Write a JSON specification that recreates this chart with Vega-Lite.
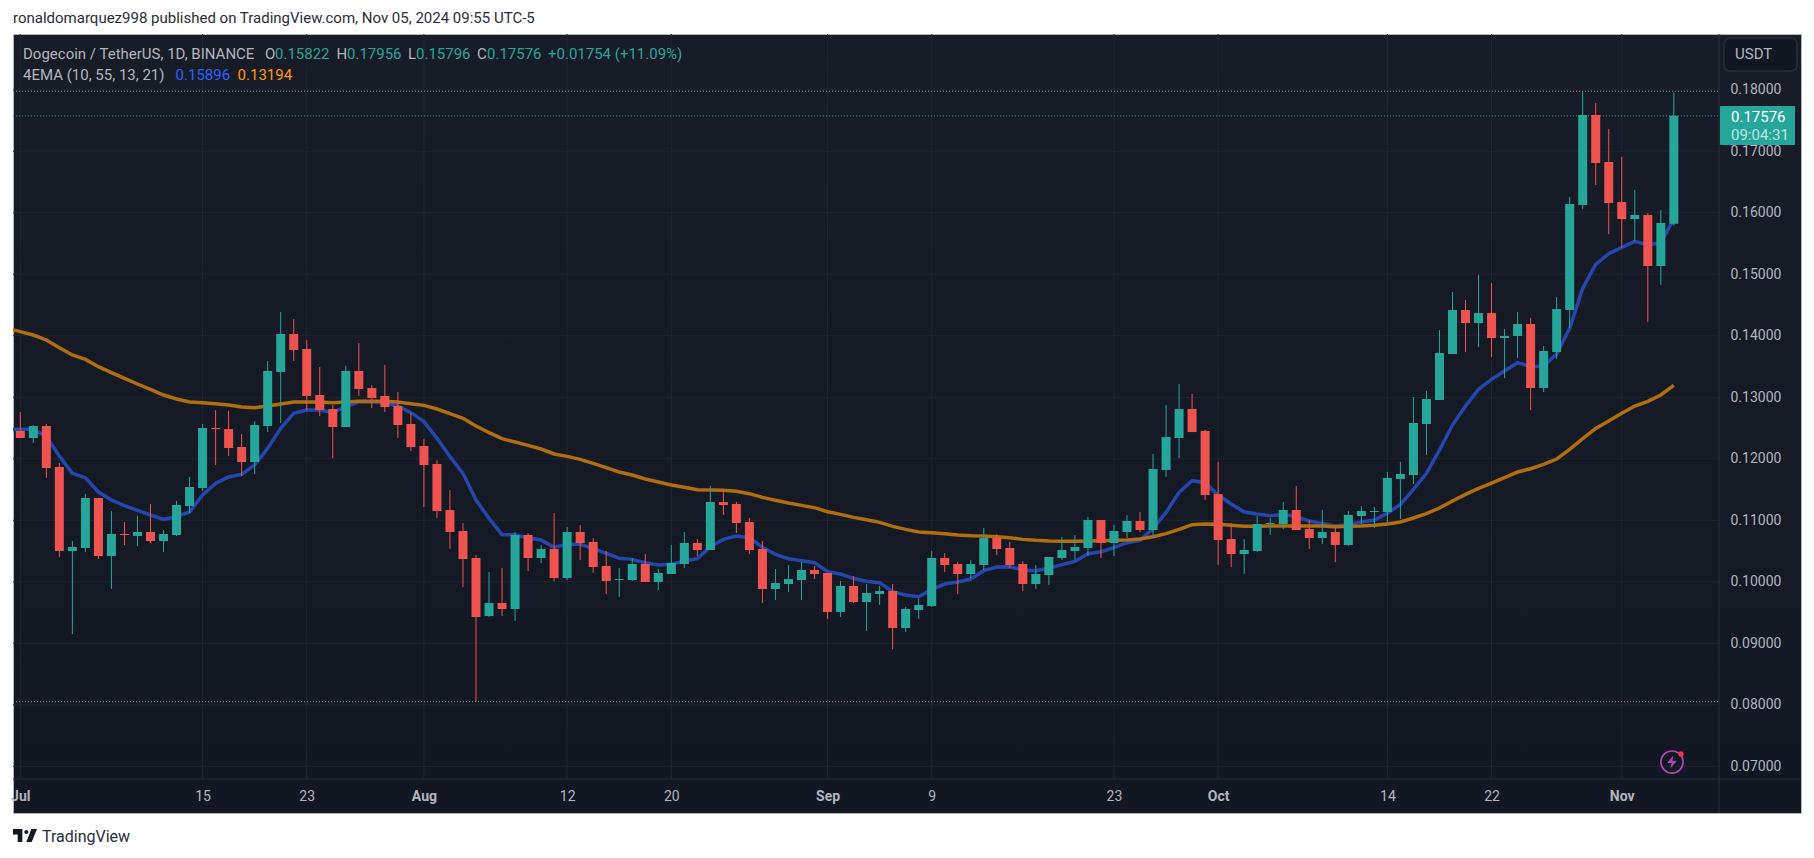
{
  "$schema": "https://vega.github.io/schema/vega-lite/v6.json",
  "width": 1788,
  "height": 779,
  "autosize": {"type": "none"},
  "padding": {"left": 13, "top": 34, "right": 13, "bottom": 45},
  "background": "#ffffff",
  "usermeta": {"embedOptions": {"actions": false}},
  "title": {"text": "ronaldomarquez998 published on TradingView.com, Nov 05, 2024 09:55 UTC-5", "anchor": "start", "frame": "group", "offset": 8, "font": "Roboto", "fontSize": 15, "fontWeight": "normal", "color": "#2a2e39"},
  "config": {"view": {"stroke": "#b2b5be", "strokeWidth": 1, "fill": {"gradient": "linear", "x1": 0, "y1": 0, "x2": 0, "y2": 1, "stops": [{"offset": 0, "color": "#181c27"}, {"offset": 1, "color": "#131722"}]}}, "text": {"font": "Roboto"}},
  "resolve": {"axis": {"x": "independent", "y": "independent"}},
  "datasets": {
    "candles": [
      {"date":"2024-06-30","ema10":0.12479,"ema55":0.14121},
      {"date":"2024-07-01","open":0.12452,"high":0.12761,"low":0.12338,"close":0.12338,"ema10":0.12479,"ema55":0.14067},
      {"date":"2024-07-02","open":0.12338,"high":0.12549,"low":0.12257,"close":0.12533,"ema10":0.12479,"ema55":0.14013},
      {"date":"2024-07-03","open":0.12533,"high":0.12566,"low":0.11688,"close":0.1185,"ema10":0.1236,"ema55":0.13932},
      {"date":"2024-07-04","open":0.11867,"high":0.11932,"low":0.10403,"close":0.10501,"ema10":0.12046,"ema55":0.13807},
      {"date":"2024-07-05","open":0.10501,"high":0.10663,"low":0.09151,"close":0.10566,"ema10":0.11764,"ema55":0.13688},
      {"date":"2024-07-06","open":0.1055,"high":0.11428,"low":0.10485,"close":0.11363,"ema10":0.11693,"ema55":0.13617},
      {"date":"2024-07-07","open":0.11363,"high":0.11363,"low":0.10371,"close":0.10419,"ema10":0.1146,"ema55":0.13498},
      {"date":"2024-07-08","open":0.10419,"high":0.11151,"low":0.09883,"close":0.10777,"ema10":0.1133,"ema55":0.134},
      {"date":"2024-07-09","open":0.10777,"high":0.10972,"low":0.10598,"close":0.10761,"ema10":0.11238,"ema55":0.13308},
      {"date":"2024-07-10","open":0.10745,"high":0.1107,"low":0.10582,"close":0.1081,"ema10":0.11162,"ema55":0.13216},
      {"date":"2024-07-11","open":0.1081,"high":0.11265,"low":0.10631,"close":0.10663,"ema10":0.11086,"ema55":0.13129},
      {"date":"2024-07-12","open":0.10663,"high":0.10842,"low":0.10485,"close":0.10777,"ema10":0.11016,"ema55":0.13037},
      {"date":"2024-07-13","open":0.10761,"high":0.11314,"low":0.10745,"close":0.11249,"ema10":0.11059,"ema55":0.12972},
      {"date":"2024-07-14","open":0.11232,"high":0.11704,"low":0.11119,"close":0.11541,"ema10":0.11135,"ema55":0.12923},
      {"date":"2024-07-15","open":0.11525,"high":0.12566,"low":0.11476,"close":0.12501,"ema10":0.11411,"ema55":0.12913},
      {"date":"2024-07-16","open":0.12501,"high":0.12793,"low":0.11899,"close":0.12484,"ema10":0.11601,"ema55":0.12896},
      {"date":"2024-07-17","open":0.12484,"high":0.12777,"low":0.12046,"close":0.12176,"ema10":0.11704,"ema55":0.12875},
      {"date":"2024-07-18","open":0.12192,"high":0.12403,"low":0.1172,"close":0.11948,"ema10":0.11747,"ema55":0.12842},
      {"date":"2024-07-19","open":0.11948,"high":0.12615,"low":0.11753,"close":0.12549,"ema10":0.11899,"ema55":0.12831},
      {"date":"2024-07-20","open":0.12533,"high":0.1359,"low":0.12436,"close":0.13428,"ema10":0.1217,"ema55":0.12858},
      {"date":"2024-07-21","open":0.13411,"high":0.14387,"low":0.12582,"close":0.14029,"ema10":0.12495,"ema55":0.12891},
      {"date":"2024-07-22","open":0.14029,"high":0.14273,"low":0.1359,"close":0.13769,"ema10":0.12739,"ema55":0.12923},
      {"date":"2024-07-23","open":0.13785,"high":0.13932,"low":0.12793,"close":0.13021,"ema10":0.12793,"ema55":0.12923},
      {"date":"2024-07-24","open":0.13037,"high":0.13493,"low":0.12696,"close":0.12793,"ema10":0.12793,"ema55":0.12923},
      {"date":"2024-07-25","open":0.1281,"high":0.12875,"low":0.12013,"close":0.12517,"ema10":0.12755,"ema55":0.12913},
      {"date":"2024-07-26","open":0.12517,"high":0.13509,"low":0.12517,"close":0.13428,"ema10":0.12848,"ema55":0.12923},
      {"date":"2024-07-27","open":0.13428,"high":0.13883,"low":0.13021,"close":0.13135,"ema10":0.12923,"ema55":0.12934},
      {"date":"2024-07-28","open":0.13151,"high":0.132,"low":0.12826,"close":0.12989,"ema10":0.12929,"ema55":0.12934},
      {"date":"2024-07-29","open":0.13021,"high":0.13525,"low":0.12761,"close":0.12842,"ema10":0.12902,"ema55":0.12934},
      {"date":"2024-07-30","open":0.12858,"high":0.13086,"low":0.12338,"close":0.12549,"ema10":0.12858,"ema55":0.12923},
      {"date":"2024-07-31","open":0.12566,"high":0.12745,"low":0.12127,"close":0.12192,"ema10":0.1275,"ema55":0.12896},
      {"date":"2024-08-01","open":0.12208,"high":0.12322,"low":0.11216,"close":0.11899,"ema10":0.12604,"ema55":0.12869},
      {"date":"2024-08-02","open":0.11915,"high":0.1198,"low":0.11037,"close":0.11151,"ema10":0.12333,"ema55":0.1281},
      {"date":"2024-08-03","open":0.11167,"high":0.11493,"low":0.10533,"close":0.1081,"ema10":0.12035,"ema55":0.12734},
      {"date":"2024-08-04","open":0.10826,"high":0.10956,"low":0.09915,"close":0.10371,"ema10":0.11764,"ema55":0.12658},
      {"date":"2024-08-05","open":0.10387,"high":0.10436,"low":0.08051,"close":0.09428,"ema10":0.1133,"ema55":0.12533},
      {"date":"2024-08-06","open":0.09444,"high":0.10159,"low":0.09428,"close":0.09655,"ema10":0.11032,"ema55":0.12425},
      {"date":"2024-08-07","open":0.09655,"high":0.10224,"low":0.09444,"close":0.09558,"ema10":0.10766,"ema55":0.12327},
      {"date":"2024-08-08","open":0.09558,"high":0.1081,"low":0.09363,"close":0.10761,"ema10":0.10766,"ema55":0.12273},
      {"date":"2024-08-09","open":0.10761,"high":0.10793,"low":0.10175,"close":0.10387,"ema10":0.10712,"ema55":0.12219},
      {"date":"2024-08-10","open":0.10387,"high":0.10598,"low":0.10306,"close":0.10533,"ema10":0.1068,"ema55":0.12159},
      {"date":"2024-08-11","open":0.10533,"high":0.11119,"low":0.10013,"close":0.10062,"ema10":0.1056,"ema55":0.12078},
      {"date":"2024-08-12","open":0.10062,"high":0.10891,"low":0.10029,"close":0.1081,"ema10":0.10609,"ema55":0.1204},
      {"date":"2024-08-13","open":0.1081,"high":0.10924,"low":0.10354,"close":0.10631,"ema10":0.10609,"ema55":0.11991},
      {"date":"2024-08-14","open":0.10647,"high":0.10712,"low":0.10143,"close":0.10241,"ema10":0.10544,"ema55":0.11926},
      {"date":"2024-08-15","open":0.10257,"high":0.10501,"low":0.09802,"close":0.10013,"ema10":0.10463,"ema55":0.11856},
      {"date":"2024-08-16","open":0.10029,"high":0.10224,"low":0.09753,"close":0.10045,"ema10":0.10382,"ema55":0.11785},
      {"date":"2024-08-17","open":0.10029,"high":0.10387,"low":0.10013,"close":0.10289,"ema10":0.10365,"ema55":0.11737},
      {"date":"2024-08-18","open":0.10289,"high":0.10452,"low":0.09997,"close":0.09997,"ema10":0.10311,"ema55":0.11672},
      {"date":"2024-08-19","open":0.09997,"high":0.10208,"low":0.09867,"close":0.10143,"ema10":0.10273,"ema55":0.11623},
      {"date":"2024-08-20","open":0.10127,"high":0.10598,"low":0.10127,"close":0.10306,"ema10":0.10284,"ema55":0.11574},
      {"date":"2024-08-21","open":0.10289,"high":0.1081,"low":0.10224,"close":0.10631,"ema10":0.10338,"ema55":0.11536},
      {"date":"2024-08-22","open":0.10631,"high":0.10696,"low":0.1042,"close":0.10517,"ema10":0.10376,"ema55":0.11498},
      {"date":"2024-08-23","open":0.10517,"high":0.11558,"low":0.10517,"close":0.11297,"ema10":0.10571,"ema55":0.11493},
      {"date":"2024-08-24","open":0.11297,"high":0.11509,"low":0.11086,"close":0.11249,"ema10":0.1069,"ema55":0.11487},
      {"date":"2024-08-25","open":0.11265,"high":0.11297,"low":0.10793,"close":0.10956,"ema10":0.10745,"ema55":0.11471},
      {"date":"2024-08-26","open":0.10972,"high":0.11037,"low":0.10452,"close":0.10517,"ema10":0.10718,"ema55":0.11433},
      {"date":"2024-08-27","open":0.10533,"high":0.10663,"low":0.09655,"close":0.09883,"ema10":0.1056,"ema55":0.11373},
      {"date":"2024-08-28","open":0.09883,"high":0.10208,"low":0.09704,"close":0.0998,"ema10":0.10447,"ema55":0.11325},
      {"date":"2024-08-29","open":0.09964,"high":0.10273,"low":0.09834,"close":0.10045,"ema10":0.10376,"ema55":0.11281},
      {"date":"2024-08-30","open":0.10029,"high":0.10322,"low":0.09704,"close":0.10192,"ema10":0.10344,"ema55":0.11243},
      {"date":"2024-08-31","open":0.10192,"high":0.10257,"low":0.10045,"close":0.10127,"ema10":0.10311,"ema55":0.11205},
      {"date":"2024-09-01","open":0.10143,"high":0.10143,"low":0.09395,"close":0.09509,"ema10":0.10165,"ema55":0.1114},
      {"date":"2024-09-02","open":0.09509,"high":0.10013,"low":0.09428,"close":0.09932,"ema10":0.10127,"ema55":0.11097},
      {"date":"2024-09-03","open":0.09932,"high":0.10094,"low":0.09655,"close":0.09671,"ema10":0.10056,"ema55":0.11048},
      {"date":"2024-09-04","open":0.09671,"high":0.09964,"low":0.092,"close":0.09818,"ema10":0.10008,"ema55":0.1101},
      {"date":"2024-09-05","open":0.09802,"high":0.09932,"low":0.09623,"close":0.0985,"ema10":0.09986,"ema55":0.10967},
      {"date":"2024-09-06","open":0.0985,"high":0.09964,"low":0.08907,"close":0.09249,"ema10":0.0984,"ema55":0.10902},
      {"date":"2024-09-07","open":0.09249,"high":0.0959,"low":0.09184,"close":0.09558,"ema10":0.09785,"ema55":0.10853},
      {"date":"2024-09-08","open":0.09541,"high":0.0972,"low":0.09395,"close":0.09623,"ema10":0.09758,"ema55":0.1081},
      {"date":"2024-09-09","open":0.09606,"high":0.10501,"low":0.0959,"close":0.10387,"ema10":0.09877,"ema55":0.10799},
      {"date":"2024-09-10","open":0.10387,"high":0.10468,"low":0.10159,"close":0.10273,"ema10":0.09964,"ema55":0.10783},
      {"date":"2024-09-11","open":0.10289,"high":0.10322,"low":0.09802,"close":0.10127,"ema10":0.09997,"ema55":0.10761},
      {"date":"2024-09-12","open":0.10127,"high":0.10354,"low":0.10062,"close":0.10289,"ema10":0.10045,"ema55":0.1075},
      {"date":"2024-09-13","open":0.10273,"high":0.10875,"low":0.10192,"close":0.10712,"ema10":0.10181,"ema55":0.10745},
      {"date":"2024-09-14","open":0.10712,"high":0.10777,"low":0.10436,"close":0.10533,"ema10":0.10241,"ema55":0.10734},
      {"date":"2024-09-15","open":0.1055,"high":0.10647,"low":0.10224,"close":0.10273,"ema10":0.10246,"ema55":0.10718},
      {"date":"2024-09-16","open":0.10289,"high":0.10338,"low":0.0985,"close":0.09964,"ema10":0.10192,"ema55":0.1069},
      {"date":"2024-09-17","open":0.09964,"high":0.10273,"low":0.09883,"close":0.10127,"ema10":0.10181,"ema55":0.10674},
      {"date":"2024-09-18","open":0.1011,"high":0.10403,"low":0.09948,"close":0.10403,"ema10":0.10219,"ema55":0.10663},
      {"date":"2024-09-19","open":0.10387,"high":0.10728,"low":0.10354,"close":0.10517,"ema10":0.10279,"ema55":0.10658},
      {"date":"2024-09-20","open":0.10501,"high":0.10761,"low":0.10371,"close":0.10566,"ema10":0.10333,"ema55":0.10658},
      {"date":"2024-09-21","open":0.1055,"high":0.11054,"low":0.1042,"close":0.11005,"ema10":0.10457,"ema55":0.10663},
      {"date":"2024-09-22","open":0.11005,"high":0.11005,"low":0.10387,"close":0.10631,"ema10":0.1049,"ema55":0.10669},
      {"date":"2024-09-23","open":0.10631,"high":0.10924,"low":0.1042,"close":0.10826,"ema10":0.10555,"ema55":0.10674},
      {"date":"2024-09-24","open":0.1081,"high":0.11086,"low":0.10712,"close":0.10989,"ema10":0.10636,"ema55":0.1068},
      {"date":"2024-09-25","open":0.10989,"high":0.11135,"low":0.1081,"close":0.10842,"ema10":0.10674,"ema55":0.10696},
      {"date":"2024-09-26","open":0.10842,"high":0.12078,"low":0.10712,"close":0.11834,"ema10":0.10869,"ema55":0.10734},
      {"date":"2024-09-27","open":0.11818,"high":0.12875,"low":0.11704,"close":0.12354,"ema10":0.11129,"ema55":0.10783},
      {"date":"2024-09-28","open":0.12338,"high":0.13216,"low":0.12013,"close":0.12809,"ema10":0.11455,"ema55":0.10853},
      {"date":"2024-09-29","open":0.12809,"high":0.13053,"low":0.12435,"close":0.12435,"ema10":0.11644,"ema55":0.10929},
      {"date":"2024-09-30","open":0.12452,"high":0.12468,"low":0.1133,"close":0.11411,"ema10":0.11612,"ema55":0.1094},
      {"date":"2024-10-01","open":0.11427,"high":0.11948,"low":0.10273,"close":0.10679,"ema10":0.11411,"ema55":0.10934},
      {"date":"2024-10-02","open":0.10696,"high":0.10956,"low":0.1024,"close":0.10452,"ema10":0.11265,"ema55":0.10918},
      {"date":"2024-10-03","open":0.10452,"high":0.10696,"low":0.10127,"close":0.10517,"ema10":0.11135,"ema55":0.10902},
      {"date":"2024-10-04","open":0.10501,"high":0.1107,"low":0.10484,"close":0.1094,"ema10":0.11102,"ema55":0.10902},
      {"date":"2024-10-05","open":0.1094,"high":0.11037,"low":0.10761,"close":0.10956,"ema10":0.11075,"ema55":0.10907},
      {"date":"2024-10-06","open":0.1094,"high":0.11297,"low":0.10858,"close":0.11167,"ema10":0.11097,"ema55":0.10907},
      {"date":"2024-10-07","open":0.11167,"high":0.11558,"low":0.10842,"close":0.10842,"ema10":0.11059,"ema55":0.10907},
      {"date":"2024-10-08","open":0.10858,"high":0.11005,"low":0.10533,"close":0.10712,"ema10":0.10988,"ema55":0.10907},
      {"date":"2024-10-09","open":0.10712,"high":0.11167,"low":0.10614,"close":0.10809,"ema10":0.1095,"ema55":0.10907},
      {"date":"2024-10-10","open":0.10809,"high":0.10907,"low":0.10322,"close":0.10598,"ema10":0.10907,"ema55":0.10896},
      {"date":"2024-10-11","open":0.10598,"high":0.11151,"low":0.10582,"close":0.11086,"ema10":0.10929,"ema55":0.10902},
      {"date":"2024-10-12","open":0.1107,"high":0.11232,"low":0.1094,"close":0.11151,"ema10":0.10972,"ema55":0.10907},
      {"date":"2024-10-13","open":0.11135,"high":0.11216,"low":0.10875,"close":0.11151,"ema10":0.11005,"ema55":0.10918},
      {"date":"2024-10-14","open":0.11135,"high":0.11785,"low":0.10956,"close":0.11688,"ema10":0.11113,"ema55":0.1094},
      {"date":"2024-10-15","open":0.11671,"high":0.11948,"low":0.11021,"close":0.11753,"ema10":0.11259,"ema55":0.10972},
      {"date":"2024-10-16","open":0.11736,"high":0.13005,"low":0.1159,"close":0.12582,"ema10":0.11503,"ema55":0.11037},
      {"date":"2024-10-17","open":0.12566,"high":0.13102,"low":0.12062,"close":0.12972,"ema10":0.11763,"ema55":0.11108},
      {"date":"2024-10-18","open":0.12956,"high":0.14094,"low":0.12956,"close":0.1372,"ema10":0.12143,"ema55":0.112},
      {"date":"2024-10-19","open":0.13704,"high":0.14712,"low":0.13704,"close":0.14419,"ema10":0.12549,"ema55":0.11314},
      {"date":"2024-10-20","open":0.14419,"high":0.14582,"low":0.13736,"close":0.14208,"ema10":0.12858,"ema55":0.11422},
      {"date":"2024-10-21","open":0.14208,"high":0.14988,"low":0.13818,"close":0.1437,"ema10":0.13129,"ema55":0.1152},
      {"date":"2024-10-22","open":0.1437,"high":0.14858,"low":0.13655,"close":0.13964,"ema10":0.13292,"ema55":0.11606},
      {"date":"2024-10-23","open":0.13964,"high":0.1411,"low":0.13314,"close":0.13997,"ema10":0.13427,"ema55":0.11693},
      {"date":"2024-10-24","open":0.13997,"high":0.14387,"low":0.13639,"close":0.14192,"ema10":0.13563,"ema55":0.11785},
      {"date":"2024-10-25","open":0.14192,"high":0.14289,"low":0.12793,"close":0.13151,"ema10":0.13498,"ema55":0.11839},
      {"date":"2024-10-26","open":0.13151,"high":0.13834,"low":0.13086,"close":0.13753,"ema10":0.13509,"ema55":0.1191},
      {"date":"2024-10-27","open":0.13736,"high":0.14631,"low":0.13623,"close":0.14435,"ema10":0.13704,"ema55":0.11996},
      {"date":"2024-10-28","open":0.14419,"high":0.16257,"low":0.14127,"close":0.16143,"ema10":0.14121,"ema55":0.12154},
      {"date":"2024-10-29","open":0.16127,"high":0.17975,"low":0.16061,"close":0.1759,"ema10":0.14772,"ema55":0.12327},
      {"date":"2024-10-30","open":0.1759,"high":0.17785,"low":0.16452,"close":0.16809,"ema10":0.15162,"ema55":0.12495},
      {"date":"2024-10-31","open":0.16826,"high":0.17362,"low":0.15655,"close":0.16159,"ema10":0.15335,"ema55":0.12614},
      {"date":"2024-11-01","open":0.16175,"high":0.16907,"low":0.15427,"close":0.15899,"ema10":0.15438,"ema55":0.12739},
      {"date":"2024-11-02","open":0.15899,"high":0.1637,"low":0.15541,"close":0.15964,"ema10":0.15536,"ema55":0.12858},
      {"date":"2024-11-03","open":0.15964,"high":0.15996,"low":0.14224,"close":0.15135,"ema10":0.15476,"ema55":0.12934},
      {"date":"2024-11-04","open":0.15135,"high":0.16045,"low":0.14826,"close":0.15834,"ema10":0.15519,"ema55":0.13037},
      {"date":"2024-11-05","open":0.15822,"high":0.17956,"low":0.15796,"close":0.17576,"ema10":0.15896,"ema55":0.13194}
    ]
  },
  "layer": [
    {
      "data": {"values": [{"price": 0.07}, {"price": 0.08}, {"price": 0.09}, {"price": 0.1}, {"price": 0.11}, {"price": 0.12}, {"price": 0.13}, {"price": 0.14}, {"price": 0.15}, {"price": 0.16}, {"price": 0.17}, {"price": 0.18}]},
      "mark": {"type": "rule", "color": "#22262f", "strokeWidth": 1},
      "encoding": {
        "x": {"datum": 1719743557601, "type": "temporal", "scale": {"type": "utc", "domain": [1719743557601, 1731608627262], "nice": false, "padding": 0}, "axis": null},
        "x2": {"datum": 1731064479771},
        "y": {"field": "price", "type": "quantitative", "scale": {"domain": [0.06241, 0.18907], "nice": false, "zero": false, "padding": 0}, "axis": {"orient": "right", "offset": -82, "values": [0.07, 0.08, 0.09, 0.1, 0.11, 0.12, 0.13, 0.14, 0.15, 0.16, 0.17, 0.18], "format": ".5f", "title": null, "grid": false, "domain": false, "ticks": false, "labelPadding": 11, "labelFont": "Roboto", "labelFontSize": 14, "labelColor": "#b2b5be"}}
      }
    },
    {
      "data": {"values": [{"date": "2024-07-01"}, {"date": "2024-07-15"}, {"date": "2024-07-23"}, {"date": "2024-08-01"}, {"date": "2024-08-12"}, {"date": "2024-08-20"}, {"date": "2024-09-01"}, {"date": "2024-09-09"}, {"date": "2024-09-23"}, {"date": "2024-10-01"}, {"date": "2024-10-14"}, {"date": "2024-10-22"}, {"date": "2024-11-01"}]},
      "mark": {"type": "rule", "color": "#22262f", "strokeWidth": 1},
      "encoding": {
        "x": {"field": "date", "type": "temporal", "axis": {"orient": "bottom", "offset": -34, "values": [1719792000000, 1721001600000, 1721692800000, 1722470400000, 1723420800000, 1724112000000, 1725148800000, 1725840000000, 1727049600000, 1727740800000, 1728864000000, 1729555200000, 1730419200000], "labelExpr": "utcdate(datum.value) == 1 ? utcFormat(datum.value, '%b') : utcFormat(datum.value, '%-d')", "labelFontWeight": {"condition": {"test": "utcdate(datum.value) == 1", "value": "bold"}, "value": "normal"}, "title": null, "grid": false, "domain": false, "ticks": false, "labelAngle": 0, "labelPadding": 10, "labelFont": "Roboto", "labelFontSize": 14, "labelColor": "#b2b5be", "labelOverlap": false, "labelBound": false, "labelFlush": false}},
        "y": {"datum": 0.18907, "type": "quantitative", "axis": null},
        "y2": {"datum": 0.06793}
      }
    },
    {
      "data": {"name": "candles"},
      "mark": {"type": "line", "color": "#2447ae", "strokeWidth": 3.5, "clip": true},
      "encoding": {
        "x": {"field": "date", "type": "temporal", "axis": null},
        "y": {"field": "ema10", "type": "quantitative", "axis": null}
      }
    },
    {
      "data": {"name": "candles"},
      "mark": {"type": "line", "color": "#b06e0e", "strokeWidth": 3.5, "clip": true},
      "encoding": {
        "x": {"field": "date", "type": "temporal", "axis": null},
        "y": {"field": "ema55", "type": "quantitative", "axis": null}
      }
    },
    {
      "data": {"values": [{"price": 0.17976}, {"price": 0.08051}]},
      "mark": {"type": "rule", "color": "#9598a1", "strokeWidth": 1, "strokeDash": [1, 2]},
      "encoding": {
        "x": {"datum": 1719743557601, "type": "temporal", "axis": null},
        "x2": {"datum": 1731064479771},
        "y": {"field": "price", "type": "quantitative", "axis": null}
      }
    },
    {
      "data": {"values": [{"price": 0.17576}]},
      "mark": {"type": "rule", "color": "#26a69a", "strokeWidth": 1, "strokeDash": [1, 2]},
      "encoding": {
        "x": {"datum": 1719743557601, "type": "temporal", "axis": null},
        "x2": {"datum": 1731064479771},
        "y": {"field": "price", "type": "quantitative", "axis": null}
      }
    },
    {
      "data": {"name": "candles"},
      "transform": [{"filter": "datum.open != null"}],
      "mark": {"type": "rule", "strokeWidth": 1},
      "encoding": {
        "x": {"field": "date", "type": "temporal", "axis": null},
        "y": {"field": "high", "type": "quantitative", "axis": null},
        "y2": {"field": "low"},
        "color": {"condition": {"test": "datum.close >= datum.open", "value": "#26a69a"}, "value": "#ef5350"}
      }
    },
    {
      "data": {"name": "candles"},
      "transform": [{"filter": "datum.open != null"}],
      "mark": {"type": "bar", "size": 9, "orient": "vertical"},
      "encoding": {
        "x": {"field": "date", "type": "temporal", "axis": null},
        "y": {"field": "open", "type": "quantitative", "axis": null},
        "y2": {"field": "close"},
        "color": {"condition": {"test": "datum.close >= datum.open", "value": "#26a69a"}, "value": "#ef5350"}
      }
    },
    {
      "data": {"values": [{"at": 1731064479771, "top": 0.18907, "bottom": 0.06241}], "format": {"parse": null}},
      "mark": {"type": "rule", "color": "#2a2e39", "strokeWidth": 1},
      "encoding": {
        "x": {"field": "at", "type": "temporal", "axis": null},
        "y": {"field": "top", "type": "quantitative", "axis": null},
        "y2": {"field": "bottom"}
      }
    },
    {
      "data": {"values": [{"price": 0.06793}]},
      "mark": {"type": "rule", "color": "#2a2e39", "strokeWidth": 1},
      "encoding": {"y": {"field": "price", "type": "quantitative", "axis": null}}
    },
    {
      "data": {"values": [{"from": 1731071115716, "to": 1731568811592, "top": 0.17737, "bottom": 0.17102}], "format": {"parse": null}},
      "mark": {"type": "rect", "fill": "#26a69a", "cornerRadius": 1},
      "encoding": {
        "x": {"field": "from", "type": "temporal", "axis": null},
        "x2": {"field": "to"},
        "y": {"field": "top", "type": "quantitative", "axis": null},
        "y2": {"field": "bottom"}
      }
    },
    {
      "data": {"values": [{"from": 1731097659497, "to": 1731582083482, "top": 0.18842, "bottom": 0.18306}], "format": {"parse": null}},
      "mark": {"type": "rect", "fill": "#131722", "stroke": "#2a2e39", "strokeWidth": 1.5, "cornerRadius": 6},
      "encoding": {
        "x": {"field": "from", "type": "temporal", "axis": null},
        "x2": {"field": "to"},
        "y": {"field": "top", "type": "quantitative", "axis": null},
        "y2": {"field": "bottom"}
      }
    },
    {
      "data": {"values": [
        {"label": "Dogecoin / TetherUS, 1D, BINANCE", "at": 1719809917051, "price": 0.18582, "tone": "muted"},
        {"label": "O", "at": 1721415815742, "price": 0.18582, "tone": "muted"},
        {"label": "0.15822", "at": 1721482175192, "price": 0.18582, "tone": "up"},
        {"label": "H", "at": 1721890949404, "price": 0.18582, "tone": "muted"},
        {"label": "0.17956", "at": 1721959963232, "price": 0.18582, "tone": "up"},
        {"label": "L", "at": 1722364755876, "price": 0.18582, "tone": "muted"},
        {"label": "0.15796", "at": 1722417843436, "price": 0.18582, "tone": "up"},
        {"label": "C", "at": 1722822636082, "price": 0.18582, "tone": "muted"},
        {"label": "0.17576", "at": 1722888995532, "price": 0.18582, "tone": "up"},
        {"label": "+0.01754 (+11.09%)", "at": 1723293788177, "price": 0.18582, "tone": "up"},
        {"label": "4EMA (10, 55, 13, 21)", "at": 1719809917051, "price": 0.18241, "tone": "muted"},
        {"label": "0.15896", "at": 1720822562259, "price": 0.18241, "tone": "fast"},
        {"label": "0.13194", "at": 1721233990849, "price": 0.18241, "tone": "slow"},
        {"label": "USDT", "at": 1731170654892, "price": 0.18582, "tone": "muted"},
        {"label": "0.17576", "at": 1731144111112, "price": 0.17563, "tone": "white"},
        {"label": "09:04:31", "at": 1731144111112, "price": 0.17265, "tone": "pale"}
      ], "format": {"parse": null}},
      "mark": {"type": "text", "align": "left", "baseline": "middle", "font": "Roboto", "fontSize": 15},
      "encoding": {
        "x": {"field": "at", "type": "temporal", "axis": null},
        "y": {"field": "price", "type": "quantitative", "axis": null},
        "text": {"field": "label"},
        "color": {"field": "tone", "type": "nominal", "legend": null, "scale": {"domain": ["muted", "up", "fast", "slow", "white", "pale"], "range": ["#b2b5be", "#26a69a", "#2962ff", "#ff9800", "#ffffff", "#bfe5e1"]}}
      }
    },
    {
      "data": {"values": [{"label": "TradingView", "at": 1719936000007, "price": 0.0585}], "format": {"parse": null}},
      "mark": {"type": "text", "align": "left", "baseline": "middle", "font": "Roboto", "fontSize": 16, "color": "#2a2e39"},
      "encoding": {
        "x": {"field": "at", "type": "temporal", "axis": null},
        "y": {"field": "price", "type": "quantitative", "axis": null},
        "text": {"field": "label"}
      }
    },
    {
      "data": {"values": [{"at": 1719823188942, "price": 0.05875}], "format": {"parse": null}},
      "mark": {"type": "point", "shape": "M-1 -0.54L-0.222 -0.54L-0.222 0.54L-0.611 0.54L-0.611 -0.08L-1 -0.08ZM0.556 0.54L0.111 0.54L0.528 -0.54L1 -0.54ZM-0.056 -0.3A0.167 0.167 0 1 0 0.278 -0.3A0.167 0.167 0 1 0 -0.056 -0.3Z", "size": 576, "filled": true, "fill": "#131722", "opacity": 1, "strokeWidth": 0},
      "encoding": {
        "x": {"field": "at", "type": "temporal", "axis": null},
        "y": {"field": "price", "type": "quantitative", "axis": null}
      }
    },
    {
      "data": {"values": [{"at": 1730752590357, "price": 0.0707}], "format": {"parse": null}},
      "mark": {"type": "point", "shape": "circle", "size": 490, "filled": false, "stroke": "#ab47bc", "strokeWidth": 1.6, "opacity": 1},
      "encoding": {
        "x": {"field": "at", "type": "temporal", "axis": null},
        "y": {"field": "price", "type": "quantitative", "axis": null}
      }
    },
    {
      "data": {"values": [{"at": 1730752590357, "price": 0.0707}], "format": {"parse": null}},
      "mark": {"type": "point", "shape": "M0.2 -1L-0.75 0.15L-0.05 0.15L-0.25 1L0.75 -0.2L0.05 -0.2Z", "size": 169, "filled": true, "fill": "#ab47bc", "opacity": 1, "strokeWidth": 0},
      "encoding": {
        "x": {"field": "at", "type": "temporal", "axis": null},
        "y": {"field": "price", "type": "quantitative", "axis": null}
      }
    },
    {
      "data": {"values": [{"at": 1730812313862, "price": 0.072}], "format": {"parse": null}},
      "mark": {"type": "point", "shape": "circle", "size": 28, "filled": true, "fill": "#f23645", "opacity": 1, "strokeWidth": 0},
      "encoding": {
        "x": {"field": "at", "type": "temporal", "axis": null},
        "y": {"field": "price", "type": "quantitative", "axis": null}
      }
    }
  ]
}
